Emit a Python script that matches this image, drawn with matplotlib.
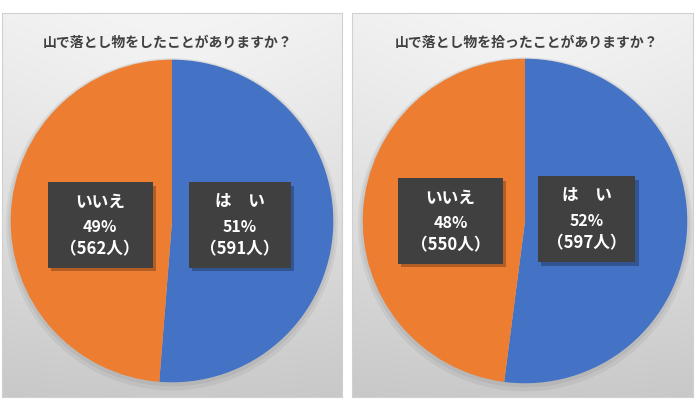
import matplotlib
matplotlib.use('Agg')
import matplotlib.pyplot as plt
import numpy as np
from matplotlib.patches import Rectangle, Circle

plt.rcParams['font.family'] = ['Noto Sans CJK JP', 'DejaVu Sans']

# data
titles = ['山で落とし物をしたことがありますか？', '山で落とし物を拾ったことがありますか？']
labels = ['は　い', 'いいえ']
q1_counts = [591, 562]
q2_counts = [597, 550]
colors = ['#4472C4', '#ED7D31']

W, H = 695, 411
fig = plt.figure(figsize=(W / 100, H / 100), dpi=100)
fig.patch.set_facecolor('white')


def px_axes(x0, y0, w, h):
    return fig.add_axes([x0 / W, 1 - (y0 + h) / H, w / W, h / H])


def panel_bg(ax):
    ny, nx = 200, 200
    yy, xx = np.mgrid[0:1:ny * 1j, 0:1:nx * 1j]
    r = np.sqrt((xx - 0.5) ** 2 + (yy - 0.25) ** 2)
    v = 0.97 - 0.14 * yy - 0.05 * r
    img = np.dstack([v, v, v])
    ax.imshow(img, extent=[0, 1, 0, 1], aspect='auto', origin='upper')
    ax.set_xlim(0, 1)
    ax.set_ylim(0, 1)
    ax.set_xticks([])
    ax.set_yticks([])
    for s in ax.spines.values():
        s.set_color('#d0d0d0')
        s.set_linewidth(0.8)


def draw_pie(ax, counts, box_pos):
    ax.add_patch(Circle((0.0, -0.02), 1.03, color='#000000', alpha=0.05, lw=0))
    ax.add_patch(Circle((0.0, -0.01), 1.015, color='#000000', alpha=0.05, lw=0))
    ax.pie(counts, colors=colors, startangle=90, counterclock=False, radius=1,
           wedgeprops=dict(edgecolor='none'))
    ax.set_xlim(-1.06, 1.06)
    ax.set_ylim(-1.06, 1.06)
    ax.set_aspect('equal')
    ax.axis('off')
    total = sum(counts)
    for lab, c, (bx, by, bw) in zip(labels, counts, box_pos):
        bh = 0.53
        ax.add_patch(Rectangle((bx - bw / 2 + 0.02, by - bh / 2 - 0.02), bw, bh,
                               color='#000000', alpha=0.25, lw=0, zorder=5))
        ax.add_patch(Rectangle((bx - bw / 2, by - bh / 2), bw, bh,
                               color='#404040', lw=0, zorder=6))
        pct = round(c / total * 100)
        lines = [lab, f'{pct}%', f'（{c}人）']
        offs = [0.145, -0.01, -0.15]
        sizes = [12, 11.5, 12]
        for t, o, s in zip(lines, offs, sizes):
            ax.text(bx, by + o, t, ha='center', va='center', color='white',
                    fontsize=s, fontweight='bold', zorder=7)


# panels
left_panel = px_axes(2, 13, 340, 384)
right_panel = px_axes(352, 13, 341, 384)
panel_bg(left_panel)
panel_bg(right_panel)

fig.text(168 / W, 1 - 43 / H, titles[0], ha='center', va='center',
         fontsize=10, fontweight='bold', color='#404040')
fig.text(527 / W, 1 - 43 / H, titles[1], ha='center', va='center',
         fontsize=10, fontweight='bold', color='#404040')

# pies: box positions (center x, center y, width) in pie units
pie1 = px_axes(11 - 10, 60 - 10, 342, 342)
draw_pie(pie1, q1_counts, [(0.42, -0.025, 0.63), (-0.445, -0.025, 0.65)])
pie2 = px_axes(363 - 10, 59 - 10, 344, 344)
draw_pie(pie2, q2_counts, [(0.38, 0.01, 0.60), (-0.46, 0.0, 0.65)])

fig.savefig('out.png', dpi=100, facecolor='white')
